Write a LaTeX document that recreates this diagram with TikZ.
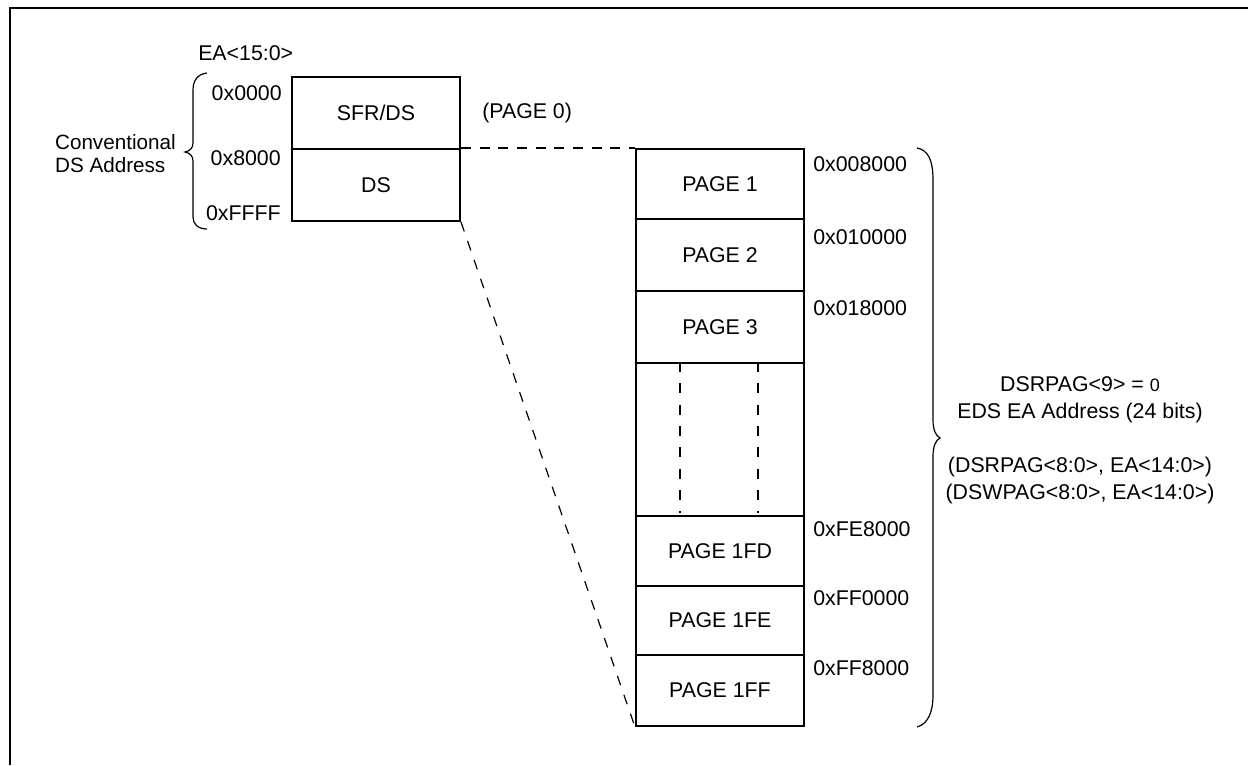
\documentclass[tikz,border=0pt]{standalone}
\usepackage{fontspec}
\setmainfont{Liberation Sans}
\usetikzlibrary{calc}
\begin{document}
\begin{tikzpicture}[x=0.75pt,y=-0.75pt,
  txt/.style={inner sep=0pt, font=\fontsize{16pt}{19pt}\selectfont},
  membox/.style={draw, line width=1.5pt, minimum width=126pt, inner sep=0pt, font=\fontsize{16pt}{19pt}\selectfont},
  frameline/.style={line width=1.9pt},
  bracel/.style={line width=0.9pt},
  hdash/.style={line width=1.5pt, dash pattern=on 7.5pt off 6.5pt},
  vdash/.style={line width=1.5pt, dash pattern=on 7.5pt off 8.5pt},
  ddash/.style={line width=0.9pt, dash pattern=on 7.5pt off 7.5pt}]
\useasboundingbox (0,0) rectangle (1248,765);
% frame
\coordinate (ftl) at (10,8);
\coordinate (ftr) at (1248,8);
\coordinate (fbl) at (10,765);
\draw[frameline] (fbl) -- (ftl) -- (ftr);
% left box
\node[membox, minimum height=54pt] (sfr) at (376,113) {SFR/DS};
\node[membox, minimum height=54pt] (ds) at (376,185) {DS};
% right pages
\node[membox, minimum height=52.5pt] (p1) at (720,184) {PAGE 1};
\node[membox, minimum height=54pt] (p2) at (720,255) {PAGE 2};
\node[membox, minimum height=54pt] (p3) at (720,327) {PAGE 3};
\node[membox, minimum height=114.75pt] (gap) at (720,439.5) {};
\node[membox, minimum height=52.5pt] (pfd) at (720,551) {PAGE 1FD};
\node[membox, minimum height=51.75pt] (pfe) at (720,620.5) {PAGE 1FE};
\node[membox, minimum height=53.25pt] (pff) at (720,690.5) {PAGE 1FF};
% dashed verticals in gap
\draw[vdash] ($(gap.north west)+(45,0)$) -- ($(gap.south west)+(45,-4)$);
\draw[vdash] ($(gap.north west)+(123,0)$) -- ($(gap.south west)+(123,-4)$);
% connectors
\draw[hdash] (ds.north east) -- (p1.north west);
\draw[ddash] (ds.south east) -- (pff.south west);
% left labels
\node[txt, anchor=west] (ea) at (198,53) {EA<15:0>};
\node[txt, anchor=east] (a0) at (282,93) {0x0000};
\node[txt, anchor=east] (a8) at (281,158) {0x8000};
\node[txt, anchor=east] (af) at (281,213) {0xFFFF};
\node[txt, anchor=east, align=left, font=\fontsize{15.5pt}{17.25pt}\selectfont] (conv) at (176,153.5) {Conventional\\DS Address};
\node[txt, anchor=west] (pg0) at (482,113) {(PAGE 0)};
% left brace
\draw[bracel] (207,73) .. controls (198,74) and (193,80) .. (193,90) -- (193,143)
  .. controls (193,148) and (190,151) .. (185,152)
  .. controls (190,153) and (193,156) .. (193,161) -- (193,217)
  .. controls (193,224) and (198,229) .. (207,229);
% right address labels
\node[txt, anchor=west] (h1) at (813,164) {0x008000};
\node[txt, anchor=west] (h2) at (813,237) {0x010000};
\node[txt, anchor=west] (h3) at (813,308) {0x018000};
\node[txt, anchor=west] (h4) at (813,529) {0xFE8000};
\node[txt, anchor=west] (h5) at (813,598) {0xFF0000};
\node[txt, anchor=west] (h6) at (813,668) {0xFF8000};
% right brace
\draw[bracel] (917,148) .. controls (928,150) and (933,160) .. (933,180) -- (933,420)
  .. controls (933,430) and (936,436) .. (940,438)
  .. controls (936,440) and (933,446) .. (933,456) -- (933,695)
  .. controls (933,712) and (928,724) .. (917,727);
% right text
\node[txt] (r1) at (1080,384) {DSRPAG<9> = {\fontsize{13.5pt}{15pt}\selectfont 0}};
\node[txt] (r2) at (1080,413) {EDS EA Address (24 bits)};
\node[txt] (r3) at (1080,467) {(DSRPAG<8:0>, EA<14:0>)};
\node[txt] (r4) at (1080,494) {(DSWPAG<8:0>, EA<14:0>)};
\end{tikzpicture}
\end{document}
